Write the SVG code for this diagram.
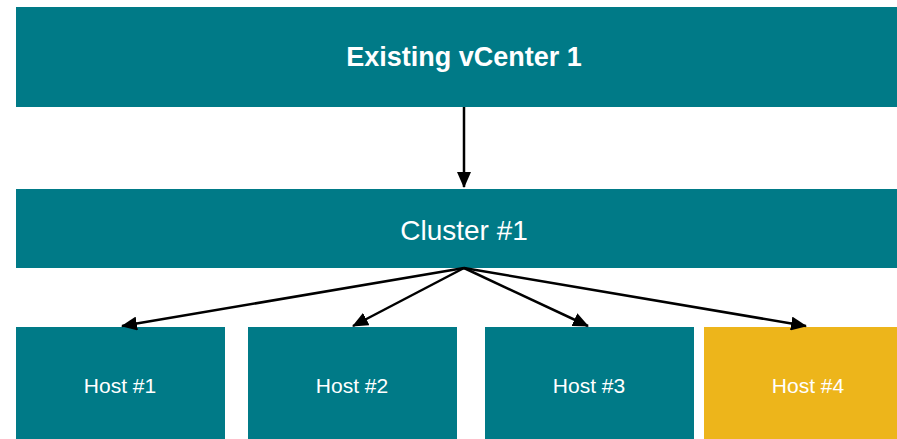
<svg xmlns="http://www.w3.org/2000/svg" width="897" height="439" viewBox="0 0 897 439">
<defs>
<marker id="ah" markerWidth="16" markerHeight="14" refX="15" refY="7" orient="auto" markerUnits="userSpaceOnUse"><path d="M0,0 L16,7 L0,14 z" fill="#000"/></marker>
<style>
.teal{fill:#007A87}
.gold{fill:#EDB51B}
.t{fill:#fff;font-family:"Liberation Sans",Arial,sans-serif;text-anchor:middle;dominant-baseline:central}
.c{stroke:#000;stroke-width:2.5;fill:none;marker-end:url(#ah)}
</style>
</defs>
<rect width="897" height="439" fill="#fff"/>
<g id="vcenter"><rect class="teal" x="16" y="7" width="881" height="100"/><text class="t" x="464" y="57" font-size="27" font-weight="bold">Existing vCenter 1</text></g>
<g id="cluster"><rect class="teal" x="16" y="189" width="881" height="79"/><text class="t" x="464" y="230" font-size="28">Cluster #1</text></g>
<g id="host1"><rect class="teal" x="16" y="327" width="209" height="112"/><text class="t" x="120" y="385" font-size="21">Host #1</text></g>
<g id="host2"><rect class="teal" x="248" y="327" width="209" height="112"/><text class="t" x="352" y="385" font-size="21">Host #2</text></g>
<g id="host3"><rect class="teal" x="485" y="327" width="209" height="112"/><text class="t" x="589" y="385" font-size="21">Host #3</text></g>
<g id="host4"><rect class="gold" x="704" y="327" width="193" height="112"/><text class="t" x="808" y="385" font-size="21">Host #4</text></g>
<g id="connectors">
<line class="c" x1="464" y1="107" x2="464" y2="187"/>
<line class="c" x1="464" y1="268" x2="122" y2="326"/>
<line class="c" x1="464" y1="268" x2="353" y2="326"/>
<line class="c" x1="464" y1="268" x2="588" y2="326"/>
<line class="c" x1="464" y1="268" x2="806" y2="326"/>
</g>
</svg>
